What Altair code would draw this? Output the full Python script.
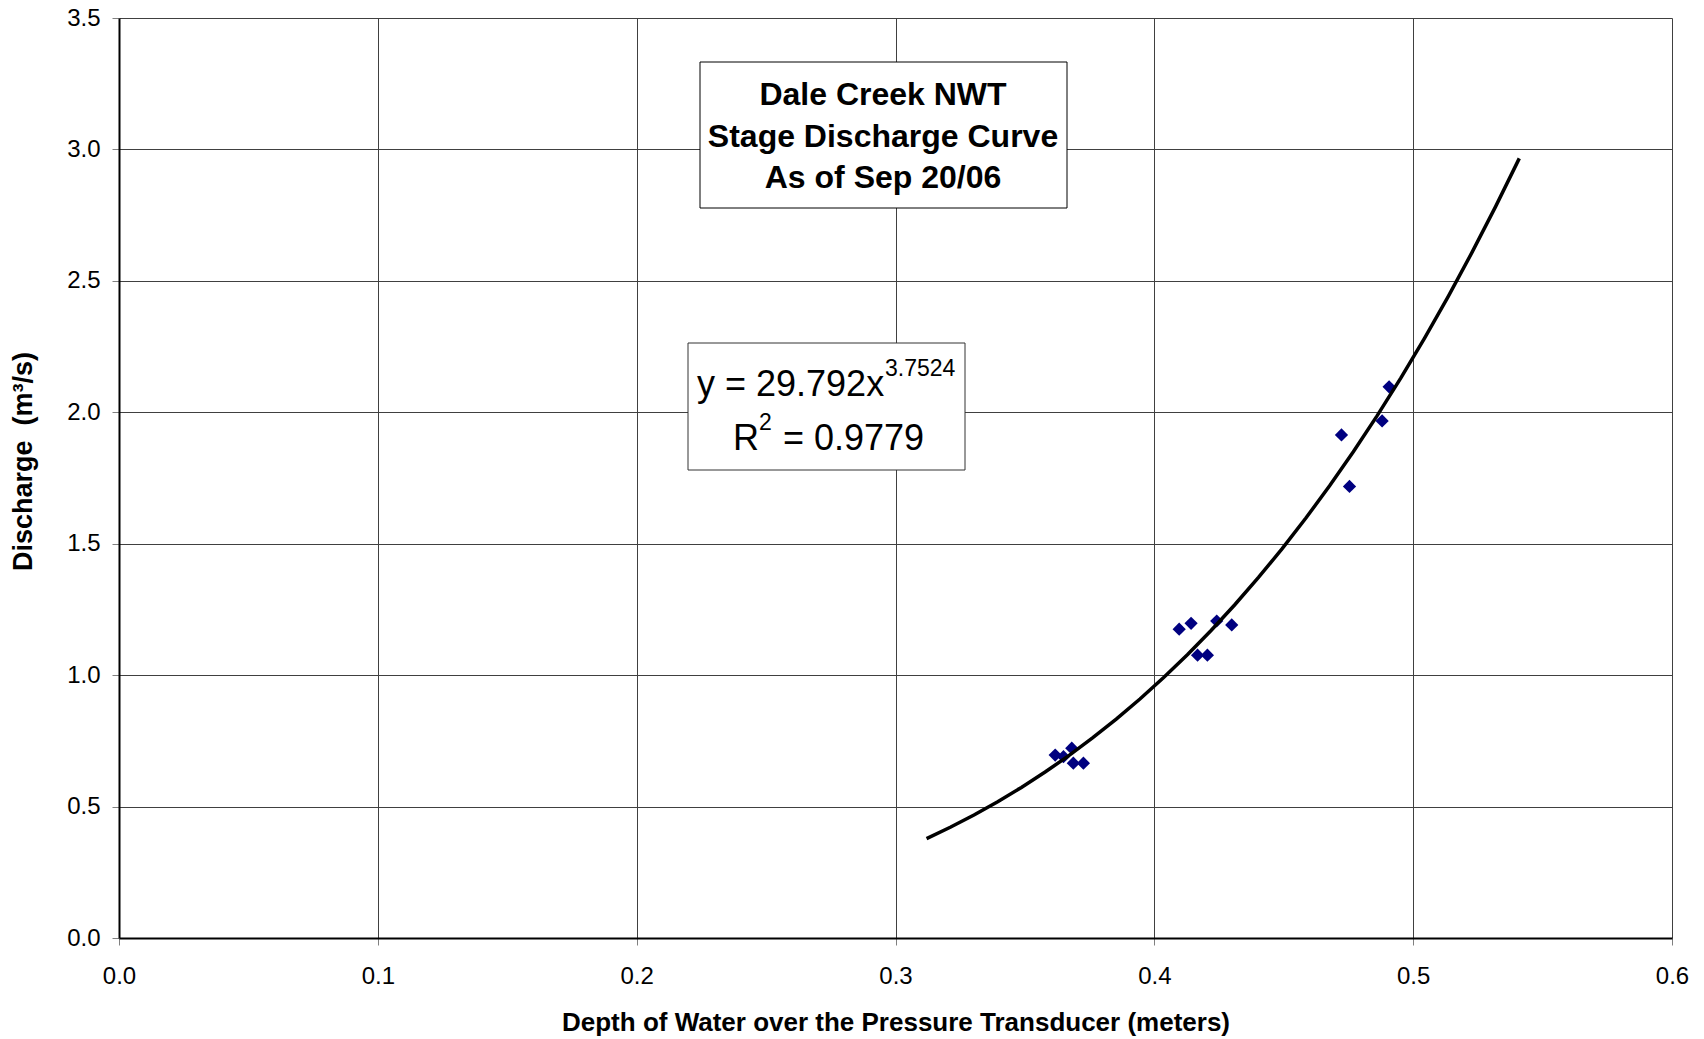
import altair as alt
import pandas as pd

# ---- data ----
depth = [0.3617, 0.3649, 0.3681, 0.3687, 0.3726,
         0.4096, 0.4142, 0.4241, 0.4299, 0.4167, 0.4205,
         0.4723, 0.4754, 0.4880, 0.4907]
discharge = [0.696, 0.690, 0.722, 0.665, 0.665,
             1.175, 1.197, 1.206, 1.191, 1.076, 1.076,
             1.914, 1.718, 1.967, 2.097]
trend_extent = [0.312, 0.541]
x_ticks = [0.0, 0.1, 0.2, 0.3, 0.4, 0.5, 0.6]
y_ticks = [0.0, 0.5, 1.0, 1.5, 2.0, 2.5, 3.0, 3.5]
title_lines = ["Dale Creek NWT", "Stage Discharge Curve", "As of Sep 20/06"]
eq_main = "y = 29.792x"
eq_exp = "3.7524"
r2_r = "R"
r2_sup = "2"
r2_val = "= 0.9779"
x_title = "Depth of Water over the Pressure Transducer (meters)"
y_title = "Discharge\u00a0\u00a0(m³/s)"

df = pd.DataFrame({"depth": depth, "discharge": discharge})
one = pd.DataFrame({"k": [0]})

FONT = "Liberation Sans"
W, H = 1553, 920

x_enc = alt.X("depth:Q",
              scale=alt.Scale(domain=[0, 0.6], nice=False, zero=False),
              axis=alt.Axis(values=x_ticks, format=".1f", title=x_title,
                            labelPadding=19, titleY=84, titleBaseline="middle"))
y_enc = alt.Y("discharge:Q",
              scale=alt.Scale(domain=[0, 3.5], nice=False, zero=False),
              axis=alt.Axis(values=y_ticks, format=".1f", title=y_title,
                            labelPadding=12, titleX=-96, titleY=443,
                            titleFontSize=27,
                            titleAlign="center", titleBaseline="middle"))

points = alt.Chart(df).mark_point(
    shape="diamond", filled=True, color="#000080", size=175, opacity=1
).encode(x=x_enc, y=y_enc)

trend = alt.Chart(df).transform_regression(
    "depth", "discharge", method="pow", extent=trend_extent
).mark_line(color="black", strokeWidth=3.5).encode(x="depth:Q", y="discharge:Q")

title_box = alt.Chart(one).mark_rect(
    fill="white", stroke="black", strokeWidth=1
).encode(x=alt.value(581), x2=alt.value(948), y=alt.value(44), y2=alt.value(190))

title_text = alt.Chart(one).mark_text(
    text=title_lines, font=FONT, fontSize=32, fontWeight="bold",
    align="center", baseline="alphabetic", lineHeight=41.7, color="black"
).encode(x=alt.value(764), y=alt.value(87))

eq_box = alt.Chart(one).mark_rect(
    fill="white", stroke="#333333", strokeWidth=1
).encode(x=alt.value(569), x2=alt.value(846), y=alt.value(325), y2=alt.value(452))

def txt(s, x, y, size):
    return alt.Chart(one).mark_text(
        text=s, font=FONT, fontSize=size, align="left",
        baseline="alphabetic", color="black"
    ).encode(x=alt.value(x), y=alt.value(y))

eq_layers = [
    txt(eq_main, 578, 378, 36),
    txt(eq_exp, 766, 358, 23),
    txt(r2_r, 614, 432, 36),
    txt(r2_sup, 640, 412, 23),
    txt(r2_val, 664, 432, 36),
]

chart = alt.layer(
    points, trend, title_box, title_text, eq_box, *eq_layers
).properties(
    width=W, height=H,
    padding={"left": 119, "top": 18, "right": 32, "bottom": 101},
    autosize=alt.AutoSizeParams(type="none"),
    background="white",
).configure_view(stroke=None).configure_axis(
    domainColor="black", domainWidth=2,
    tickColor="#808080", tickSize=7, tickWidth=1,
    gridColor="#404040", gridWidth=1, grid=True,
    labelFont=FONT, labelFontSize=24, labelColor="black",
    labelFlush=False, labelOverlap=False,
    titleFont=FONT, titleFontSize=26, titleFontWeight="bold", titleColor="black",
)

chart.save("out.html", embed_options={"renderer": "svg", "actions": False})
